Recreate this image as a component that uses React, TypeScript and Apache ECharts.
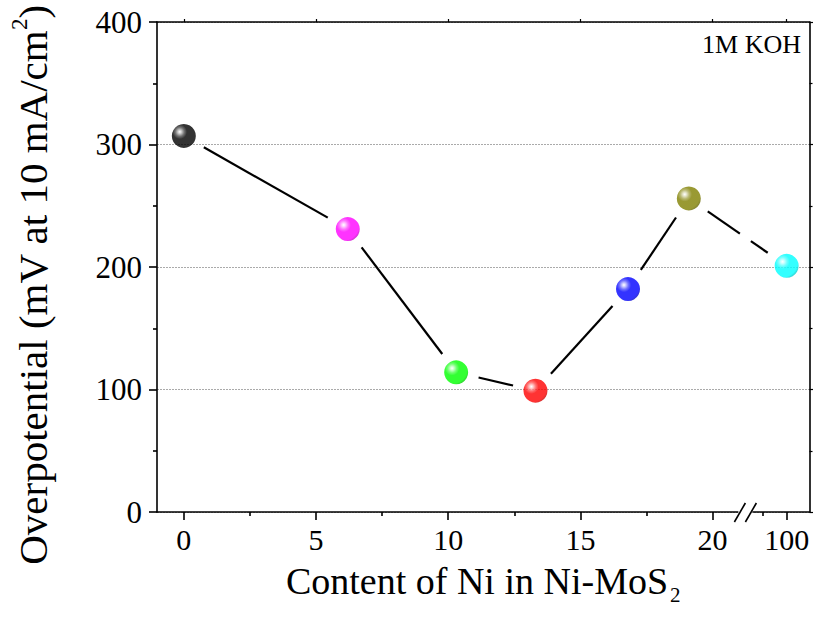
import React, { useEffect, useRef } from "react";
import * as echarts from "echarts";

// ---- data ----
const contentNi = [0, 6.2, 10.3, 13.3, 16.8, 19.1, 100];
const overpotential = [307, 231, 114, 99, 182, 256, 201];
const markerColors = ["#000000", "#FF00FF", "#00FF00", "#FF0000", "#0000FF", "#808000", "#00FFFF"];
const xTickValues = [0, 5, 10, 15, 20, 100];
const xTickLabels = ["0", "5", "10", "15", "20", "100"];
const xMinorValues = [2.5, 7.5, 12.5, 17.5, 50];
const yTickValues = [0, 100, 200, 300, 400];

// ---- broken-axis transform (layout) ----
const BREAK_POS = 21.24;
const toAxis = (v: number) => (v <= 20 ? v : 21.88 + (v - 50) * 0.0184);

const FONT = "'Liberation Serif', 'Times New Roman', serif";
const GAP = 23;
const BREAK_HALF = 5.5;

function hexToRgb(h: string) {
  const n = parseInt(h.slice(1), 16);
  return [(n >> 16) & 255, (n >> 8) & 255, n & 255];
}
function mix(h: string, t: string, k: number) {
  const a = hexToRgb(h), b = hexToRgb(t);
  const c = a.map((v, i) => Math.round(v + (b[i] - v) * k));
  return `rgb(${c[0]},${c[1]},${c[2]})`;
}
function sphere(color: string) {
  return {
    type: "radial",
    x: 0.33,
    y: 0.33,
    r: 0.75,
    colorStops: [
      { offset: 0, color: "#ffffff" },
      { offset: 0.1, color: mix(color, "#ffffff", 0.75) },
      { offset: 0.25, color: mix(color, "#ffffff", 0.3) },
      { offset: 0.4, color: color },
      { offset: 0.85, color: color },
      { offset: 1, color: mix(color, "#000000", 0.25) },
    ],
  };
}

export default function App() {
  const ref = useRef<HTMLDivElement>(null);
  useEffect(() => {
    if (!ref.current) return;
    const chart = echarts.init(ref.current, null, { renderer: "svg" });

    const segData = [];
    for (let i = 0; i < contentNi.length - 1; i++) {
      segData.push([toAxis(contentNi[i]), overpotential[i], toAxis(contentNi[i + 1]), overpotential[i + 1]]);
    }
    const pointData = contentNi.map((x, i) => ({
      value: [toAxis(x), overpotential[i]],
      itemStyle: { color: sphere(markerColors[i]) },
    }));
    const majorPos = xTickValues.map(toAxis);
    const minorPos = xMinorValues.map(toAxis);
    const labelOf = (v: number) => {
      let best = 0;
      majorPos.forEach((p, i) => {
        if (Math.abs(p - v) < Math.abs(majorPos[best] - v)) best = i;
      });
      return xTickLabels[best];
    };

    const xMin = -1.015;
    const xMax = 23.665;
    const axisLine = { show: true, onZero: false, lineStyle: { color: "#000", width: 1.6 } };
    const baseX = { type: "value", min: xMin, max: xMax, splitLine: { show: false } };

    chart.setOption({
      animation: false,
      backgroundColor: "#fff",
      grid: { left: 153, right: 3.5, top: 22, bottom: 107, containLabel: false },
      xAxis: [
        {
          ...baseX,
          position: "bottom",
          axisLine,
          axisTick: { show: true, customValues: majorPos, length: 8, lineStyle: { color: "#000", width: 1.6 } },
          axisLabel: {
            show: true,
            customValues: majorPos,
            formatter: (v: number) => labelOf(v),
            fontFamily: FONT,
            fontSize: 30,
            color: "#000",
            margin: 12,
          },
          name: "Content of Ni in Ni-MoS{sub|2}",
          nameLocation: "middle",
          nameGap: 44,
          nameTextStyle: {
            fontFamily: FONT,
            fontSize: 38,
            color: "#000",
            rich: {
              sub: { fontFamily: FONT, fontSize: 21, color: "#000", padding: [28, 0, 0, 2] },
            },
          },
        },
        {
          ...baseX,
          position: "bottom",
          axisLine: { show: false, onZero: false },
          axisTick: { show: true, customValues: minorPos, length: 4, lineStyle: { color: "#000", width: 1.6 } },
          axisLabel: { show: false },
        },
        {
          ...baseX,
          position: "top",
          axisLine,
          axisTick: { show: true, customValues: majorPos, length: 3, lineStyle: { color: "#000", width: 1.2 } },
          axisLabel: { show: false },
        },
      ],
      yAxis: [
        {
          type: "value",
          min: 0,
          max: 400,
          interval: 100,
          position: "left",
          axisLine,
          axisTick: { show: true, length: 8, lineStyle: { color: "#000", width: 1.6 } },
          minorTick: { show: true, splitNumber: 2, length: 4, lineStyle: { color: "#000", width: 1.6 } },
          axisLabel: {
            fontFamily: FONT,
            fontSize: 31,
            color: "#000",
            margin: 15,
            customValues: yTickValues,
          },
          splitLine: { show: true, lineStyle: { color: "#aaaaaa", type: [2, 1], width: 1 } },
          name: "Overpotential (mV at 10 mA/cm{sup|2})",
          nameLocation: "middle",
          nameGap: 100,
          nameTextStyle: {
            fontFamily: FONT,
            fontSize: 41,
            color: "#000",
            padding: [0, 36, 0, 0],
            rich: {
              sup: { fontFamily: FONT, fontSize: 23, color: "#000", padding: [0, 0, 26, 0] },
            },
          },
        },
        {
          type: "value",
          min: 0,
          max: 400,
          interval: 100,
          position: "right",
          axisLine,
          axisTick: { show: true, length: 6, lineStyle: { color: "#000", width: 1.2 } },
          minorTick: { show: true, splitNumber: 2, length: 3, lineStyle: { color: "#000", width: 1.2 } },
          axisLabel: { show: false },
          splitLine: { show: false },
        },
      ],
      series: [
        {
          type: "custom",
          xAxisIndex: 0,
          yAxisIndex: 0,
          data: segData,
          encode: { x: [0, 2], y: [1, 3] },
          silent: true,
          z: 2,
          renderItem: (params: any, api: any) => {
            const p1 = api.coord([api.value(0), api.value(1)]);
            const p2 = api.coord([api.value(2), api.value(3)]);
            const dx = p2[0] - p1[0];
            const dy = p2[1] - p1[1];
            const len = Math.hypot(dx, dy);
            const ux = dx / len;
            const uy = dy / len;
            const a = [p1[0] + ux * GAP, p1[1] + uy * GAP];
            const b = [p2[0] - ux * GAP, p2[1] - uy * GAP];
            const bx = api.coord([BREAK_POS, 0])[0];
            const segs: number[][] = [];
            if (a[0] < bx && b[0] > bx) {
              const yAt = (x: number) => a[1] + ((x - a[0]) / (b[0] - a[0])) * (b[1] - a[1]);
              const xl = bx - BREAK_HALF;
              const xr = bx + BREAK_HALF;
              segs.push([a[0], a[1], xl, yAt(xl)]);
              segs.push([xr, yAt(xr), b[0], b[1]]);
            } else {
              segs.push([a[0], a[1], b[0], b[1]]);
            }
            return {
              type: "group",
              children: segs.map((s) => ({
                type: "line",
                shape: { x1: s[0], y1: s[1], x2: s[2], y2: s[3] },
                style: { stroke: "#000", lineWidth: 2.2 },
              })),
            };
          },
        },
        {
          type: "scatter",
          xAxisIndex: 0,
          yAxisIndex: 0,
          data: pointData,
          symbol: "circle",
          symbolSize: 24,
          z: 3,
        },
      ],
    });

    // axis-break marks, located through the axis scale
    const bx = chart.convertToPixel({ xAxisIndex: 0 }, BREAK_POS) as number;
    const by = chart.convertToPixel({ yAxisIndex: 0 }, 0) as number;
    chart.setOption({
      graphic: [
        {
          type: "rect",
          shape: { x: bx - 7, y: by - 3, width: 14, height: 6 },
          style: { fill: "#fff" },
          z: 100,
        },
        {
          type: "line",
          shape: { x1: bx - 11, y1: by + 10, x2: bx, y2: by - 9 },
          style: { stroke: "#000", lineWidth: 1.6 },
          z: 101,
        },
        {
          type: "line",
          shape: { x1: bx, y1: by + 10, x2: bx + 11, y2: by - 9 },
          style: { stroke: "#000", lineWidth: 1.6 },
          z: 101,
        },
        {
          type: "text",
          right: 12,
          top: 31,
          style: { text: "1M KOH", font: `26px ${FONT}`, fill: "#000" },
          z: 101,
        },
      ],
    });

    return () => chart.dispose();
  }, []);
  return (
    <div
      ref={ref}
      style={{ position: "fixed", left: 0, top: 0, width: 813, height: 619, background: "#fff" }}
    />
  );
}
